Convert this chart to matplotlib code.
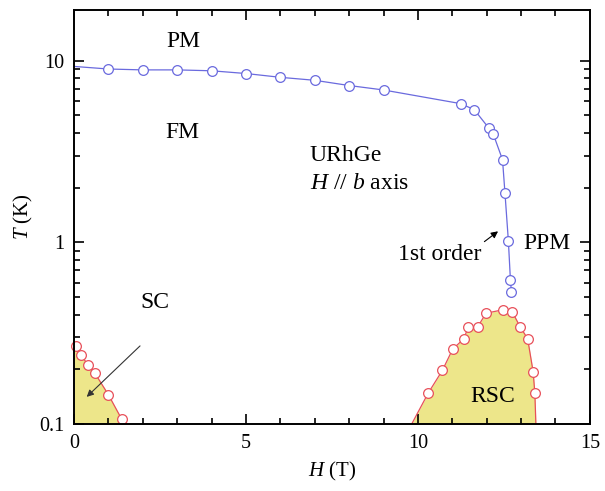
import matplotlib
matplotlib.use('Agg')
import matplotlib.pyplot as plt
from matplotlib.ticker import MultipleLocator, LogLocator, NullFormatter, FixedLocator, FixedFormatter

plt.rcParams['font.family'] = ['Liberation Serif', 'DejaVu Serif']
plt.rcParams['mathtext.fontset'] = 'custom'
plt.rcParams['mathtext.it'] = 'Liberation Serif:italic'
plt.rcParams['mathtext.rm'] = 'Liberation Serif'

# FM / PM transition (first point at H=0 drawn without marker)
fm_H = [0.0, 1, 2, 3, 4, 5, 6, 7, 8, 9, 11.25,
        11.64, 12.06, 12.19, 12.46, 12.53, 12.63, 12.69, 12.72]
fm_T = [9.3, 9.0, 8.9, 8.9, 8.8, 8.5, 8.1, 7.8, 7.3, 6.9, 5.8,
        5.37, 4.26, 3.95, 2.85, 1.88, 1.02, 0.62, 0.53]

# superconducting dome at low field
sc_H = [0.06, 0.19, 0.42, 0.61, 1.0, 1.39]
sc_T = [0.269, 0.240, 0.211, 0.190, 0.145, 0.106]
sc_edge_H = [0.0] + sc_H + [1.43]
sc_edge_T = [0.28] + sc_T + [0.1]

# reentrant superconductivity
rsc_H = [10.30, 10.71, 11.01, 11.34, 11.46, 11.74, 11.98, 12.46, 12.75, 12.97, 13.19, 13.35, 13.40]
rsc_T = [0.148, 0.197, 0.258, 0.295, 0.342, 0.343, 0.407, 0.425, 0.412, 0.343, 0.295, 0.194, 0.148]
rsc_edge_H = [9.82] + rsc_H + [13.43]
rsc_edge_T = [0.1] + rsc_T + [0.1]

blue = '#6a6ade'
red = '#e8505a'
yellow = '#ede68a'

fig = plt.figure(figsize=(6.05, 4.91), dpi=100)
ax = fig.add_axes([0.1223, 0.1365, 0.8527, 0.843])

ax.fill_between(sc_edge_H, 0.1, sc_edge_T, color=yellow, lw=0)
ax.fill_between(rsc_edge_H, 0.1, rsc_edge_T, color=yellow, lw=0)
ax.plot(sc_edge_H, sc_edge_T, color=red, lw=0.9)
ax.plot(rsc_edge_H, rsc_edge_T, color=red, lw=0.9)
ax.plot(sc_H, sc_T, 'o', ms=7, mfc='white', mec=red, mew=0.9, clip_on=False)
ax.plot(rsc_H, rsc_T, 'o', ms=7, mfc='white', mec=red, mew=0.9)

ax.plot(fm_H, fm_T, '-o', color=blue, lw=0.9, ms=7, mfc='white', mec=blue, mew=0.9,
        markevery=list(range(1, len(fm_H))))

ax.set_yscale('log')
ax.set_xlim(0, 15)
ax.set_ylim(0.1, 19)
ax.xaxis.set_major_locator(MultipleLocator(5))
ax.xaxis.set_minor_locator(MultipleLocator(1))
ax.yaxis.set_major_locator(FixedLocator([0.1, 1, 10]))
ax.yaxis.set_major_formatter(FixedFormatter(['0.1', '1', '10']))
ax.yaxis.set_minor_locator(LogLocator(base=10, subs=range(2, 10)))
ax.yaxis.set_minor_formatter(NullFormatter())
ax.tick_params(which='both', direction='in', top=True, right=True, labelsize=14.5, width=1.2)
ax.tick_params(which='major', length=7, pad=7)
ax.tick_params(which='minor', length=4)
for s in ax.spines.values():
    s.set_linewidth(1.4)

ax.set_xlabel('$H$ (T)', fontsize=15, labelpad=5)
ax.set_ylabel('$T$ (K)', fontsize=15, labelpad=3)

fs = 17
ax.text(3.17, 12.7, 'PM', fontsize=fs, ha='center', va='center')
ax.text(3.14, 4.0, 'FM', fontsize=fs, ha='center', va='center')
ax.text(6.86, 3.0, 'URhGe', fontsize=fs, ha='left', va='center')
ax.text(6.86, 2.1, '$H$ // $b$ axis', fontsize=fs, ha='left', va='center')
ax.text(13.75, 0.98, 'PPM', fontsize=fs, ha='center', va='center')
ax.text(2.35, 0.464, 'SC', fontsize=fs, ha='center', va='center')
ax.text(12.18, 0.141, 'RSC', fontsize=fs, ha='center', va='center')
ax.annotate('1st order', xy=(12.33, 1.15), xytext=(10.64, 0.86), fontsize=fs,
            ha='center', va='center',
            arrowprops=dict(arrowstyle='-|>', color='black', lw=0.8, shrinkA=0, shrinkB=0,
                            mutation_scale=10, relpos=(1.0, 1.0)))
ax.annotate('', xy=(0.37, 0.141), xytext=(1.92, 0.269),
            arrowprops=dict(arrowstyle='-|>', color='#333333', lw=0.8, shrinkA=0, shrinkB=0,
                            mutation_scale=10))

plt.savefig('out.png', dpi=100)
plt.close()
